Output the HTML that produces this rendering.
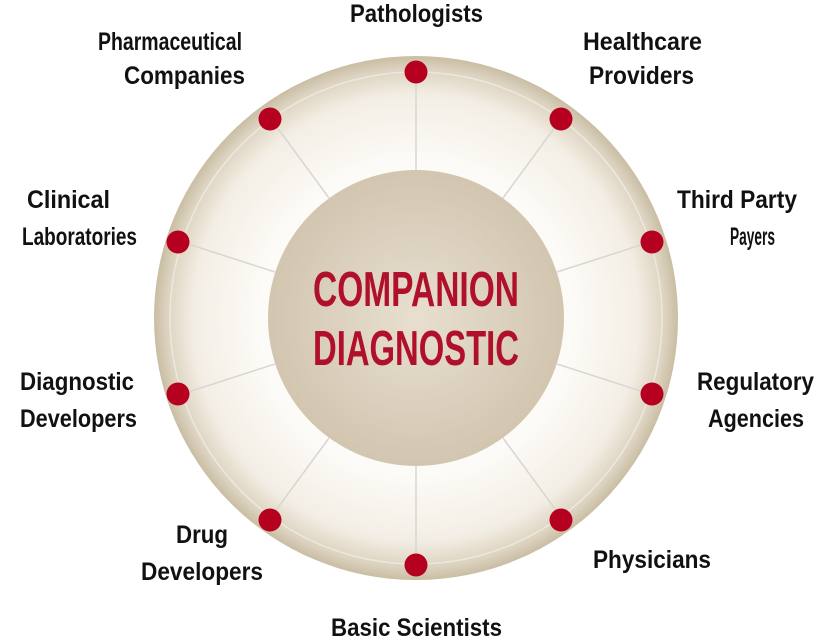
<!DOCTYPE html>
<html><head><meta charset="utf-8"><style>
html,body{margin:0;padding:0;background:#fff;}
svg{display:block;}
text{font-family:"Liberation Sans",sans-serif;font-weight:bold;}
</style></head><body>
<svg width="816" height="642" viewBox="0 0 816 642" xmlns="http://www.w3.org/2000/svg">
<defs>
<radialGradient id="ring" cx="416" cy="318" r="262" gradientUnits="userSpaceOnUse">
<stop offset="0.6" stop-color="#fdfbf7"/>
<stop offset="0.85" stop-color="#f3eee5"/>
<stop offset="0.95" stop-color="#ddd3c0"/>
<stop offset="1" stop-color="#c9bda3"/>
</radialGradient>
<radialGradient id="inner" cx="416" cy="318" r="148" gradientUnits="userSpaceOnUse">
<stop offset="0" stop-color="#e8dfd0"/>
<stop offset="1" stop-color="#d2c6b0"/>
</radialGradient>
</defs>
<circle cx="416" cy="318" r="262" fill="url(#ring)"/>
<circle cx="416" cy="318" r="246" fill="none" stroke="#ece8e1" stroke-width="1.5"/>
<g stroke="#d8d6d3" stroke-width="1.5">
<line x1="416" y1="72" x2="416" y2="170"/>
<line x1="561" y1="119" x2="503" y2="198"/>
<line x1="650" y1="242" x2="557" y2="272"/>
<line x1="650" y1="394" x2="557" y2="364"/>
<line x1="561" y1="517" x2="503" y2="438"/>
<line x1="416" y1="564" x2="416" y2="466"/>
<line x1="271" y1="517" x2="329" y2="438"/>
<line x1="182" y1="394" x2="275" y2="364"/>
<line x1="182" y1="242" x2="275" y2="272"/>
<line x1="271" y1="119" x2="329" y2="198"/>
</g>
<circle cx="416" cy="318" r="148" fill="url(#inner)"/>
<g fill="#b5001f">
<circle cx="416" cy="72" r="11.5"/>
<circle cx="561" cy="119" r="11.5"/>
<circle cx="652" cy="242" r="11.5"/>
<circle cx="652" cy="394" r="11.5"/>
<circle cx="561" cy="520" r="11.5"/>
<circle cx="416" cy="565" r="11.5"/>
<circle cx="270" cy="520" r="11.5"/>
<circle cx="178" cy="394" r="11.5"/>
<circle cx="178" cy="242" r="11.5"/>
<circle cx="270" cy="119" r="11.5"/>
</g>
<g fill="#b0102a" font-size="49">
<text x="313" y="306" textLength="206" lengthAdjust="spacingAndGlyphs">COMPANION</text>
<text x="313" y="365" textLength="206" lengthAdjust="spacingAndGlyphs">DIAGNOSTIC</text>
</g>
<g fill="#111" font-size="25">
<text x="350" y="22" textLength="133" lengthAdjust="spacingAndGlyphs">Pathologists</text>
<text x="98" y="50" textLength="144" lengthAdjust="spacingAndGlyphs">Pharmaceutical</text>
<text x="124" y="84" textLength="121" lengthAdjust="spacingAndGlyphs">Companies</text>
<text x="583" y="50" textLength="119" lengthAdjust="spacingAndGlyphs">Healthcare</text>
<text x="589" y="84" textLength="105" lengthAdjust="spacingAndGlyphs">Providers</text>
<text x="27" y="208" textLength="83" lengthAdjust="spacingAndGlyphs">Clinical</text>
<text x="22" y="245" textLength="115" lengthAdjust="spacingAndGlyphs">Laboratories</text>
<text x="677" y="208" textLength="120" lengthAdjust="spacingAndGlyphs">Third Party</text>
<text x="730" y="245" textLength="45" lengthAdjust="spacingAndGlyphs">Payers</text>
<text x="20" y="390" textLength="114" lengthAdjust="spacingAndGlyphs">Diagnostic</text>
<text x="20" y="427" textLength="117" lengthAdjust="spacingAndGlyphs">Developers</text>
<text x="697" y="390" textLength="117" lengthAdjust="spacingAndGlyphs">Regulatory</text>
<text x="708" y="427" textLength="96" lengthAdjust="spacingAndGlyphs">Agencies</text>
<text x="176" y="543" textLength="52" lengthAdjust="spacingAndGlyphs">Drug</text>
<text x="141" y="580" textLength="122" lengthAdjust="spacingAndGlyphs">Developers</text>
<text x="593" y="568" textLength="118" lengthAdjust="spacingAndGlyphs">Physicians</text>
<text x="331" y="636" textLength="171" lengthAdjust="spacingAndGlyphs">Basic Scientists</text>
</g>
</svg>
</body></html>
